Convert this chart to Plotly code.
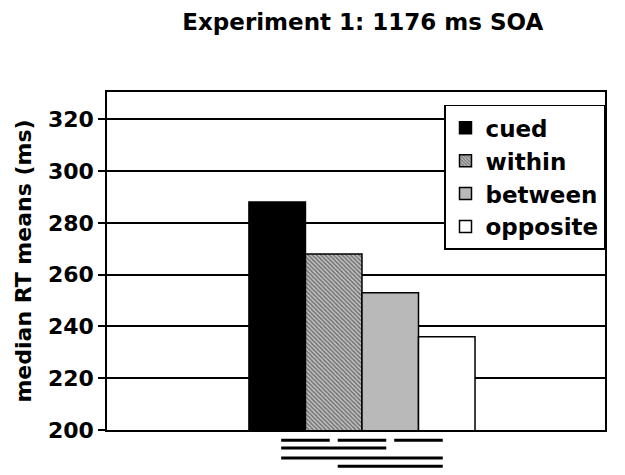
import plotly.graph_objects as go

title_text = "Experiment 1: 1176 ms SOA"
y_title = "median RT means (ms)"
conditions = ["cued", "within", "between", "opposite"]
rt_means = [288, 268, 253, 236]
y_ticks = [200, 220, 240, 260, 280, 300, 320]
# significant pairwise comparisons (index pairs), one list per row beneath the axis
comparison_rows = [[(0, 1), (1, 2), (2, 3)], [(0, 2)], [(0, 3)], [(1, 3)]]

FONT = "DejaVu Sans, Liberation Sans, Arial, sans-serif"
styles = [
    dict(color="black"),
    dict(color="#b0b0b0", pattern=dict(shape="\\", fgcolor="#202020", bgcolor="#c8c8c8", size=3, solidity=0.55)),
    dict(color="#b9b9b9"),
    dict(color="white"),
]

fig = go.Figure()
for name, val, st in zip(conditions, rt_means, styles):
    fig.add_trace(go.Bar(
        x=[0], y=[val], name=name,
        marker=dict(**st, line=dict(color="black", width=1.5)),
    ))

bargap = 0.546
xr = [-0.512, 0.488]
gw = 1 - bargap
n = len(conditions)
centers = [-gw / 2 + (i + 0.5) * gw / n for i in range(n)]
to_paper = lambda v: (v - xr[0]) / (xr[1] - xr[0])
inset = 0.008
row_y = [-0.03, -0.053, -0.083, -0.107]
for ry, row in zip(row_y, comparison_rows):
    for a, b in row:
        fig.add_shape(type="line", xref="paper", yref="paper",
                      x0=to_paper(centers[a] + inset), x1=to_paper(centers[b] - inset),
                      y0=ry, y1=ry, line=dict(color="black", width=3))

fig.update_layout(
    width=617, height=467,
    margin=dict(l=99, r=20, t=84, b=45),
    paper_bgcolor="white", plot_bgcolor="white",
    barmode="group", bargap=bargap, bargroupgap=0,
    font=dict(family=FONT, color="black", weight="bold"),
    title=dict(text=title_text, x=0.575, xanchor="center", y=0.97, yanchor="middle",
               font=dict(size=23, family=FONT, weight="bold")),
    showlegend=True,
    legend=dict(x=1.0, xanchor="right", y=0.962, yanchor="top",
                bgcolor="white", bordercolor="black", borderwidth=1.5,
                font=dict(size=23, family=FONT, weight="bold"),
                tracegroupgap=0, itemwidth=30),
    xaxis=dict(range=xr, showticklabels=False, ticks="", showgrid=False,
               showline=True, mirror=True, linecolor="black", linewidth=1.5, zeroline=False),
    yaxis=dict(range=[200, 330.5], tickvals=y_ticks, ticks="outside", ticklen=7,
               tickwidth=1.5, tickcolor="black",
               showgrid=True, gridcolor="black", gridwidth=1.5,
               showline=True, mirror=True, linecolor="black", linewidth=1.5, zeroline=False,
               tickfont=dict(size=22, family=FONT, weight="bold"),
               title=dict(text=y_title, font=dict(size=22, family=FONT, weight="bold"), standoff=10)),
)

fig.write_html("out.html")
